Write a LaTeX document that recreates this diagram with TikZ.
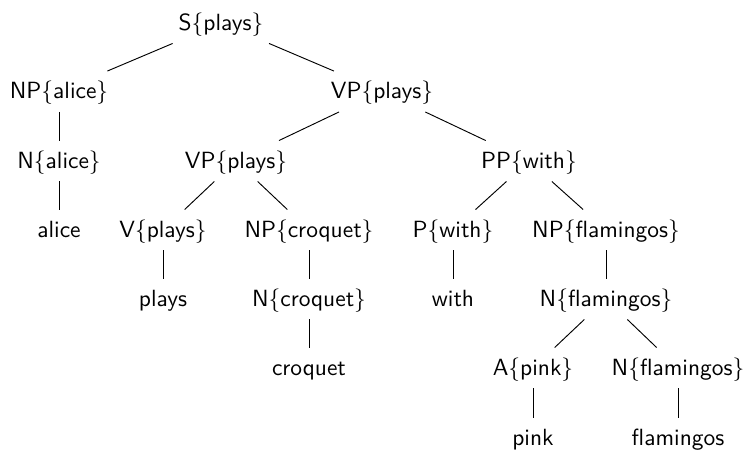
\documentclass[tikz,border=0pt]{standalone}
\usepackage{amsmath}
\usepackage{tikz}

\begin{document}
\begin{tikzpicture}[x=0.015cm, y=-0.015cm]
        \tikzstyle{every node}=[font=\sffamily, text height=8.2pt, text depth=2.2pt]
        \useasboundingbox (0,0) rectangle (749,451);

        \node (s)    at (221,23)    {S$\{$plays$\}$};
        \node (np1)  at (59,91.5)   {NP$\{$alice$\}$};
        \node (vp1)  at (382,91.5)  {VP$\{$plays$\}$};
        \node (n1)   at (59,161)    {N$\{$alice$\}$};
        \node (vp2)  at (236,161)   {VP$\{$plays$\}$};
        \node (pp)   at (529,161)   {PP$\{$with$\}$};
        \node (w1)   at (59,230)    {alice};
        \node (v)    at (163,230)   {V$\{$plays$\}$};
        \node (np2)  at (309,230)   {NP$\{$croquet$\}$};
        \node (p)    at (453,230)   {P$\{$with$\}$};
        \node (np3)  at (606,230)   {NP$\{$flamingos$\}$};
        \node (w2)   at (163,299)   {plays};
        \node (n2)   at (309,299)   {N$\{$croquet$\}$};
        \node (w3)   at (453,299)   {with};
        \node (n3)   at (606,299)   {N$\{$flamingos$\}$};
        \node (w4)   at (309,368)   {croquet};
        \node (a)    at (533,368)   {A$\{$pink$\}$};
        \node (n4)   at (678,368)   {N$\{$flamingos$\}$};
        \node (w5)   at (533,438)   {pink};
        \node (w6)   at (678,438)   {flamingos};

        \draw (s) -- (np1) (s) -- (vp1);
        \draw (np1) -- (n1) (n1) -- (w1);
        \draw (vp1) -- (vp2) (vp1) -- (pp);
        \draw (vp2) -- (v) (vp2) -- (np2);
        \draw (v) -- (w2);
        \draw (np2) -- (n2) (n2) -- (w4);
        \draw (pp) -- (p) (pp) -- (np3);
        \draw (p) -- (w3);
        \draw (np3) -- (n3);
        \draw (n3) -- (a) (n3) -- (n4);
        \draw (a) -- (w5) (n4) -- (w6);

    \end{tikzpicture}
\end{document}
